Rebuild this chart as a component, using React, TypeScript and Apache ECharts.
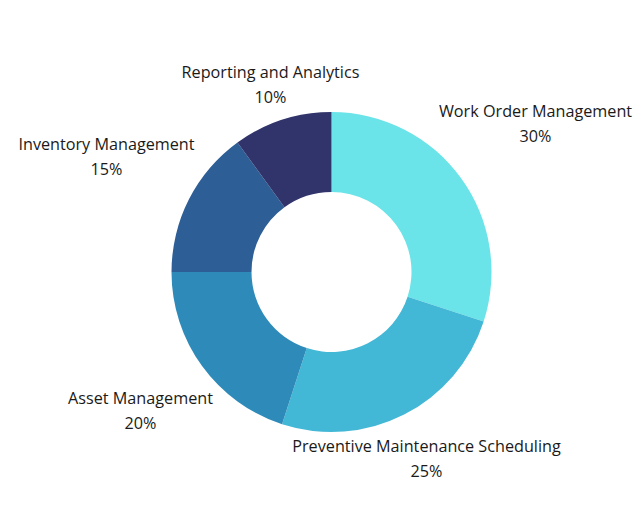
import React, { useEffect, useRef } from "react";
import * as echarts from "echarts";

const categories = [
  "Work Order Management",
  "Preventive Maintenance Scheduling",
  "Asset Management",
  "Inventory Management",
  "Reporting and Analytics",
];
const values = [30, 25, 20, 15, 10];
const colors = ["#6AE4E8", "#43B8D6", "#2E8BB9", "#2D5E96", "#30346B"];
// label centre offsets from the donut centre (px)
const labelOffsets: [number, number][] = [
  [204, -149],
  [95, 186],
  [-191, 138],
  [-225, -116],
  [-61, -188],
];

const CX = 331.5;
const CY = 272;

export default function App() {
  const ref = useRef<HTMLDivElement>(null);
  useEffect(() => {
    if (!ref.current) return;
    const chart = echarts.init(ref.current, undefined, { renderer: "svg" });
    chart.setOption({
      animation: false,
      backgroundColor: "#ffffff",
      series: [
        {
          type: "pie",
          center: [CX, CY],
          radius: [80, 160],
          startAngle: 90,
          clockwise: true,
          avoidLabelOverlap: false,
          data: categories.map((name, i) => ({
            name,
            value: values[i],
            itemStyle: { color: colors[i] },
          })),
          itemStyle: { borderWidth: 0 },
          label: {
            show: true,
            position: "outside",
            formatter: "{b}\n{c}%",
            fontFamily: "Open Sans",
            fontSize: 16.2,
            lineHeight: 25,
            color: "#1a1a1a",
            align: "center",
          },
          labelLine: { show: false },
          labelLayout: (p: any) => {
            const o = labelOffsets[p.dataIndex];
            return {
              x: CX + o[0],
              y: CY + o[1],
              align: "center",
              verticalAlign: "middle",
            };
          },
          emphasis: { disabled: true },
        },
      ],
    });
    return () => chart.dispose();
  }, []);
  return (
    <div
      ref={ref}
      style={{ position: "fixed", left: 0, top: 0, width: 642, height: 514 }}
    />
  );
}
